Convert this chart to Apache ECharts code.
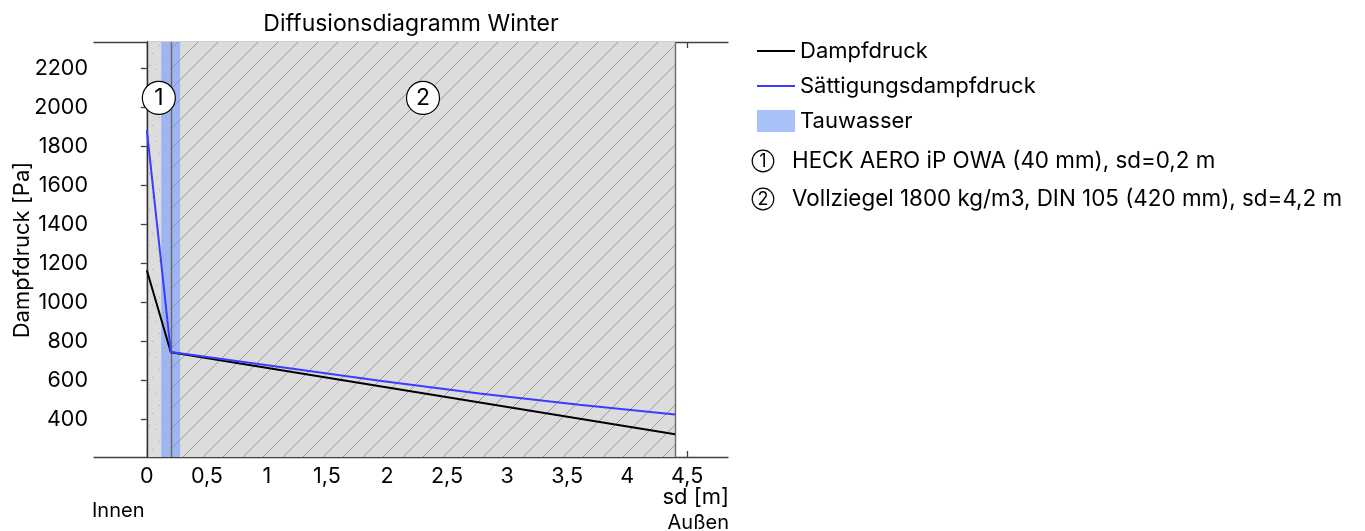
<!DOCTYPE html>
<html>
<head>
<meta charset="utf-8">
<script src="https://cdn.jsdelivr.net/npm/echarts@6/dist/echarts.min.js"></script>
<style>html,body{margin:0;padding:0;background:#fff}#c{width:1365px;height:531px}</style>
</head>
<body>
<div id="c"></div>
<script>
// ---- data ----
var DAMPF = [[0, 1165], [0.2, 744], [4.4, 323]];
var SATT = [[0, 1885], [0.2, 745], [1.2, 660], [1.94, 597], [2.77, 532], [3.6, 474], [4.4, 424]];
var LAYERS = [[0, 0.2], [0.2, 4.4]];
var LAYER_BOUNDS = [0, 0.2, 4.4];
var TAUWASSER = [0.12, 0.277];
var LAYER_MARKS = [[0.1, 2050, '1'], [2.3, 2050, '2']];
var LAYER_TEXTS = ['HECK AERO iP OWA (40 mm), sd=0,2 m', 'Vollziegel 1800 kg/m3, DIN 105 (420 mm), sd=4,2 m'];
var X_TICKS = [0, 0.5, 1, 1.5, 2, 2.5, 3, 3.5, 4, 4.5];
var Y_TICKS = [400, 600, 800, 1000, 1200, 1400, 1600, 1800, 2000, 2200];
var X_MIN = -0.44, X_MAX = 4.84, Y_MIN = 206, Y_MAX = 2337;

function hatch() {
  var c = document.createElement('canvas'); c.width = 20; c.height = 20;
  var g = c.getContext('2d');
  g.fillStyle = '#dcdcdc'; g.fillRect(0, 0, 20, 20);
  g.strokeStyle = '#9a9a9a'; g.lineWidth = 1;
  g.beginPath();
  g.moveTo(-2, 22); g.lineTo(22, -2);
  g.moveTo(-2, 2); g.lineTo(2, -2);
  g.moveTo(18, 22); g.lineTo(22, 18);
  g.stroke();
  return c;
}
function stipple() {
  var c = document.createElement('canvas'); c.width = 24; c.height = 36;
  var g = c.getContext('2d');
  g.fillStyle = '#dcdcdc'; g.fillRect(0, 0, 24, 36);
  g.fillStyle = '#a8a8a8';
  var pts = [[3, 4], [15, 9], [8, 17], [19, 24], [5, 29], [12, 33], [21, 2]];
  pts.forEach(function (p) { g.fillRect(p[0], p[1], 1, 1); });
  return c;
}

var FONT = 'Inter';
var chart = echarts.init(document.getElementById('c'), null, { renderer: 'canvas' });

var axisLine = { show: true, lineStyle: { color: '#404040', width: 1.3 } };
var tickLine = { lineStyle: { color: '#404040', width: 1.3 } };

var graphics = [
  { type: 'text', x: 22, y: 250, rotation: Math.PI / 2,
    style: { text: 'Dampfdruck [Pa]', font: '22px ' + FONT, fill: '#000', align: 'center', verticalAlign: 'middle' } },
  { type: 'text', x: 92, y: 511,
    style: { text: 'Innen', font: '20px ' + FONT, fill: '#000', align: 'left', verticalAlign: 'middle' } },
  { type: 'text', x: 729, y: 497,
    style: { text: 'sd [m]', font: '22px ' + FONT, fill: '#000', align: 'right', verticalAlign: 'middle' } },
  { type: 'text', x: 729, y: 523,
    style: { text: 'Außen', font: '20px ' + FONT, fill: '#000', align: 'right', verticalAlign: 'middle' } }
];
LAYER_TEXTS.forEach(function (t, i) {
  var cy = 161 + i * 38;
  graphics.push({ type: 'circle', shape: { cx: 763, cy: cy, r: 10.8 },
    style: { fill: '#fff', stroke: '#000', lineWidth: 1.2 } });
  graphics.push({ type: 'text', x: 763, y: cy + 1,
    style: { text: String(i + 1), font: '18px ' + FONT, fill: '#000', align: 'center', verticalAlign: 'middle' } });
  graphics.push({ type: 'text', x: 792, y: cy,
    style: { text: t, font: '22.4px ' + FONT, fill: '#000', align: 'left', verticalAlign: 'middle' } });
});

var LINE_ICON = 'path://M0,0 L0.05,0 L0,0.05 Z M0,10 L38,10 L38,12 L0,12 Z M0,22 L0.05,22 L0,21.95 Z';
var option = {
  animation: false,
  textStyle: { fontFamily: FONT },
  title: { text: 'Diffusionsdiagramm Winter', left: 406, top: 8, textAlign: 'center',
    textStyle: { fontFamily: FONT, fontSize: 23, fontWeight: 'normal', color: '#000' } },
  legend: {
    orient: 'vertical', left: 757, top: 40, padding: 0, itemWidth: 38, itemHeight: 22, itemGap: 13,
    textStyle: { fontFamily: FONT, fontSize: 22, color: '#000' },
    selectedMode: false,
    data: [
      { name: 'Dampfdruck', icon: LINE_ICON, itemStyle: { color: '#000' } },
      { name: 'Sättigungsdampfdruck', icon: LINE_ICON, itemStyle: { color: '#3c3cff' } },
      { name: 'Tauwasser', icon: 'rect', itemStyle: { color: '#a8c0f8', opacity: 1 } }
    ]
  },
  grid: { left: 94, right: 637, top: 42, bottom: 74, containLabel: false },
  xAxis: [
    { type: 'value', min: X_MIN, max: X_MAX, position: 'bottom',
      axisLine: axisLine, splitLine: { show: false },
      axisTick: Object.assign({ show: true, inside: true, length: 6, customValues: X_TICKS }, tickLine),
      axisLabel: { show: true, customValues: X_TICKS, margin: 9, fontSize: 21.5, color: '#000', fontFamily: FONT,
        formatter: function (v) { return String(v).replace('.', ','); } } },
    { type: 'value', min: X_MIN, max: X_MAX, position: 'top',
      axisLine: axisLine, splitLine: { show: false },
      axisTick: Object.assign({ show: true, inside: true, length: 6, customValues: X_TICKS }, tickLine),
      axisLabel: { show: false } }
  ],
  yAxis: [
    { type: 'value', min: Y_MIN, max: Y_MAX, position: 'left',
      axisLine: axisLine, splitLine: { show: false },
      axisTick: Object.assign({ show: true, inside: true, length: 6, customValues: Y_TICKS }, tickLine),
      axisLabel: { show: true, customValues: Y_TICKS, margin: 6, fontSize: 21.5, color: '#000', fontFamily: FONT,
        formatter: function (v) { return String(v); } } },
    { type: 'value', min: Y_MIN, max: Y_MAX, position: 'right',
      axisLine: axisLine, splitLine: { show: false },
      axisTick: Object.assign({ show: true, inside: true, length: 6, customValues: Y_TICKS }, tickLine),
      axisLabel: { show: false } }
  ],
  graphic: graphics,
  series: [
    { name: 'Schichten', type: 'line', data: [], z: 1, silent: true,
      markArea: { silent: true, z: 1,
        data: [
          [{ xAxis: LAYERS[0][0], itemStyle: { color: { image: stipple(), repeat: 'repeat' }, opacity: 1 } }, { xAxis: LAYERS[0][1] }],
          [{ xAxis: LAYERS[1][0], itemStyle: { color: { image: hatch(), repeat: 'repeat' }, opacity: 1 } }, { xAxis: LAYERS[1][1] }]
        ] },
      markLine: { silent: true, symbol: 'none', label: { show: false }, z: 2,
        data: LAYER_BOUNDS.map(function (x, i) {
          return { xAxis: x, lineStyle: { type: 'solid', color: i === 0 ? '#303030' : '#6a6a6a', width: 1.4 } };
        }) } },
    { name: 'Dampfdruck', type: 'line', data: DAMPF, symbol: 'none', z: 3,
      lineStyle: { color: '#000', width: 2 }, itemStyle: { color: '#000' } },
    { name: 'Sättigungsdampfdruck', type: 'line', data: SATT, symbol: 'none', z: 3,
      lineStyle: { color: '#3c3cff', width: 2 }, itemStyle: { color: '#3c3cff' } },
    { name: 'Tauwasser', type: 'line', data: [], z: 4, itemStyle: { color: '#a8c0f8' },
      markArea: { silent: true,
        itemStyle: { color: 'rgba(110,150,255,0.55)', opacity: 1 },
        data: [[{ xAxis: TAUWASSER[0] }, { xAxis: TAUWASSER[1] }]] } },
    { name: 'Schichtnr', type: 'scatter', z: 5, silent: true,
      data: LAYER_MARKS.map(function (d) { return { value: [d[0], d[1]], label: { formatter: d[2] } }; }),
      symbol: 'circle', symbolSize: 33,
      itemStyle: { color: '#fff', borderColor: '#000', borderWidth: 1.2, opacity: 1 },
      label: { show: true, position: 'inside', fontSize: 23, color: '#000', fontFamily: FONT } }
  ]
};
chart.setOption(option);
</script>
</body>
</html>
